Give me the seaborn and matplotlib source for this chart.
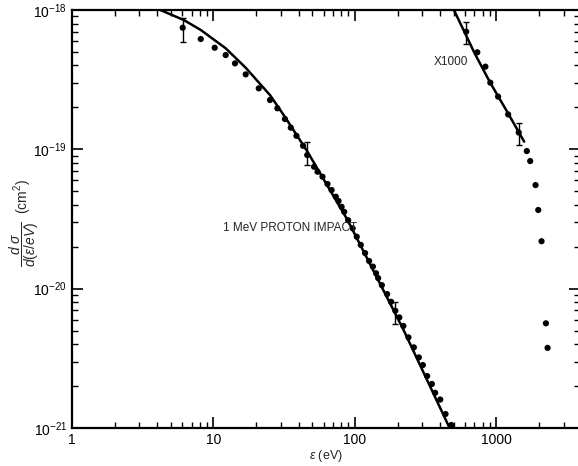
import matplotlib
matplotlib.use("Agg")
import matplotlib.pyplot as plt
import seaborn as sns
import numpy as np
import pandas as pd

# ---- data ----
main_eps = [6.06, 8.13, 10.2, 12.2, 14.2, 16.9, 20.9, 25.1, 28.3, 32.0, 35.2, 38.6, 43.0, 46.0,
            51.4, 54.4, 59.0, 64.0, 68.4, 73.3, 76.6, 80.5, 84.0, 89.6, 96.3, 103, 110, 118,
            126, 134, 141, 146, 155, 169, 180, 193, 206, 220, 239, 261, 283, 302, 324, 350,
            369, 401, 437, 480]
main_val = [7.46e-19, 6.19e-19, 5.36e-19, 4.75e-19, 4.14e-19, 3.45e-19, 2.74e-19, 2.26e-19,
            1.97e-19, 1.65e-19, 1.43e-19, 1.25e-19, 1.06e-19, 9.10e-20,
            7.50e-20, 6.91e-20, 6.36e-20, 5.64e-20, 5.10e-20, 4.57e-20, 4.26e-20, 3.87e-20,
            3.56e-20, 3.10e-20, 2.71e-20, 2.36e-20, 2.06e-20, 1.80e-20,
            1.58e-20, 1.44e-20, 1.29e-20, 1.19e-20, 1.06e-20, 9.14e-21, 8.05e-21, 6.94e-21,
            6.22e-21, 5.40e-21, 4.47e-21, 3.79e-21, 3.21e-21, 2.83e-21, 2.36e-21, 2.07e-21,
            1.79e-21, 1.60e-21, 1.26e-21, 1.05e-21]

main_err_eps = [6.06, 46.0, 193]
main_err_lo = [5.92e-19, 7.71e-20, 5.54e-21]
main_err_hi = [8.71e-19, 1.135e-19, 8.05e-21]

main_curve_eps = [4.21, 6.16, 8.13, 12.2, 16.9, 25.1, 32.0, 46.2, 88.7, 218, 467]
main_curve_val = [1.0e-18, 8.48e-19, 7.19e-19, 5.31e-19, 3.85e-19, 2.45e-19, 1.71e-19,
                  9.61e-20, 3.11e-20, 5.19e-21, 1.00e-21]

x1000_eps = [612, 733, 836, 906, 1028, 1211, 1439, 1641, 1734, 1892, 1977, 2085, 2239, 2301]
x1000_val = [6.99e-19, 4.97e-19, 3.92e-19, 3.01e-19, 2.39e-19, 1.78e-19, 1.32e-19, 9.72e-20,
             8.24e-20, 5.54e-20, 3.67e-20, 2.19e-20, 5.64e-21, 3.76e-21]

x1000_err_eps = [612, 1439]
x1000_err_lo = [5.7e-19, 1.07e-19]
x1000_err_hi = [8.2e-19, 1.55e-19]

x1000_curve_eps = [501, 702, 896, 1211, 1572]
x1000_curve_val = [1.0e-18, 4.89e-19, 3.06e-19, 1.81e-19, 1.135e-19]

x_ticks = [1, 10, 100, 1000]
x_ticklabels = ["1", "10", "100", "1000"]
y_ticks = [1e-21, 1e-20, 1e-19, 1e-18]
y_ticklabels = [r"$10^{-21}$", r"$10^{-20}$", r"$10^{-19}$", r"$10^{-18}$"]

# ---- styling ----
sns.set_style("ticks")
plt.rcParams["font.family"] = ["Liberation Sans", "DejaVu Sans"]
plt.rcParams["mathtext.fontset"] = "custom"
plt.rcParams["mathtext.rm"] = "Liberation Sans"
plt.rcParams["mathtext.it"] = "Liberation Sans:italic"
plt.rcParams["mathtext.sf"] = "Liberation Sans"

fig = plt.figure(figsize=(5.78, 4.66), dpi=100)
ax = fig.add_axes([72 / 578, 38 / 466, 508 / 578, 418 / 466])
ax.set_xscale("log")
ax.set_yscale("log")

df_main = pd.DataFrame({"eps": main_eps, "val": main_val})
df_x = pd.DataFrame({"eps": x1000_eps, "val": x1000_val})
df_mc = pd.DataFrame({"eps": main_curve_eps, "val": main_curve_val})
df_xc = pd.DataFrame({"eps": x1000_curve_eps, "val": x1000_curve_val})

sns.lineplot(data=df_mc, x="eps", y="val", ax=ax, color="black", lw=1.8, sort=False)
sns.lineplot(data=df_xc, x="eps", y="val", ax=ax, color="black", lw=1.8, sort=False)
sns.scatterplot(data=df_main, x="eps", y="val", ax=ax, color="black", s=20, edgecolor="none")
sns.scatterplot(data=df_x, x="eps", y="val", ax=ax, color="black", s=20, edgecolor="none")

for e, lo, hi in zip(main_err_eps + x1000_err_eps, main_err_lo + x1000_err_lo,
                     main_err_hi + x1000_err_hi):
    mid = np.sqrt(lo * hi)
    ax.errorbar([e], [mid], yerr=[[mid - lo], [hi - mid]],
                fmt="none", ecolor="black", elinewidth=1.0, capsize=2.5, capthick=1.0)

ax.set_xlim(1, 3900)
ax.set_ylim(1e-21, 1e-18)
ax.set_xticks(x_ticks)
ax.set_xticklabels(x_ticklabels)
ax.set_yticks(y_ticks)
ax.set_yticklabels(y_ticklabels)

ax.tick_params(which="both", direction="in", top=True, right=True, colors="black",
               labelsize=10)
ax.tick_params(which="major", length=8, width=1.2)
ax.tick_params(which="minor", length=4, width=1.0)
for s in ax.spines.values():
    s.set_linewidth(1.6)
    s.set_color("black")

ax.set_xlabel(r"$\epsilon$ (eV)", fontsize=9, va="center")
ax.xaxis.set_label_coords(0.5, -0.068)
ax.set_ylabel(r"$\dfrac{d\ \sigma}{d(\epsilon/eV)}$  (cm$^2$)", fontsize=10, va="center")
ax.yaxis.set_label_coords(-48 / 508, 0.49)

ax.text(11.6, 2.72e-20, "1 MeV PROTON IMPACT", fontsize=8.5, ha="left", va="center")
ax.text(361, 4.23e-19, "X1000", fontsize=8.5, ha="left", va="center")

fig.savefig("out.png", dpi=100)
